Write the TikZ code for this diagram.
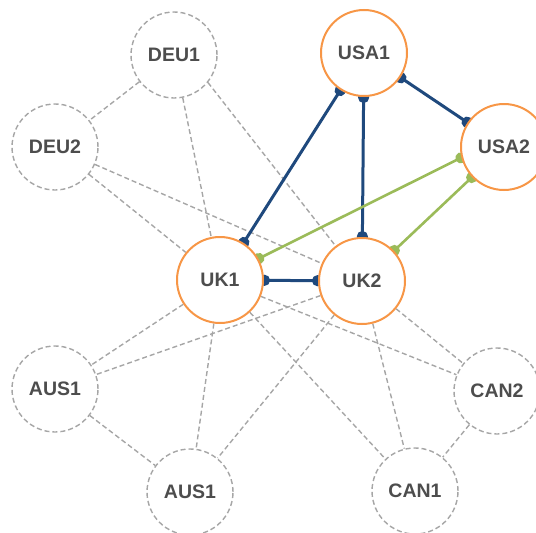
\documentclass[tikz,border=0pt]{standalone}
\usepackage{fontspec}
\setmainfont{Liberation Sans}
\usetikzlibrary{arrows.meta,backgrounds}
\definecolor{edgegray}{HTML}{A6A6A6}
\definecolor{ringorange}{HTML}{F79646}
\definecolor{linkblue}{HTML}{1F497D}
\definecolor{linkgreen}{HTML}{9BBB59}
\definecolor{labelgray}{HTML}{4D4D4D}
\begin{document}
\begin{tikzpicture}[x=1pt,y=-1pt,
  site/.style={circle, minimum size=86pt, inner sep=0pt, fill=white,
    font=\fontsize{19.5}{20}\selectfont\bfseries, text=labelgray},
  other/.style={site, draw=edgegray, line width=1.4pt, dash pattern=on 5pt off 3pt},
  core/.style={site, draw=ringorange, line width=2pt},
  weak/.style={draw=edgegray, line width=1.4pt, dash pattern=on 5pt off 3pt},
  tie/.style={line width=3pt, {Circle[length=11pt]}-{Circle[length=11pt]},
    shorten <=-5pt, shorten >=-5pt},
  bluetie/.style={tie, draw=linkblue},
  greentie/.style={tie, line width=2.6pt, draw=linkgreen}]
\useasboundingbox (0,0) rectangle (536,533);
\clip (0,0) rectangle (536,533);

% sites
\node[other] (deu1) at (174,55) {DEU1};
\node[other] (deu2) at (55,147) {DEU2};
\node[core]  (usa1) at (364,53) {USA1};
\node[core]  (usa2) at (504,147) {USA2};
\node[core]  (uk1)  at (220,280) {UK1};
\node[core]  (uk2)  at (362,281) {UK2};
\node[other] (aus1a) at (55,389) {AUS1};
\node[other] (aus1b) at (190,492) {AUS1};
\node[other] (can2) at (497,391) {CAN2};
\node[other] (can1) at (415,491) {CAN1};

\begin{scope}[on background layer]
  % secondary links
  \draw[weak] (deu1) -- (deu2);
  \draw[weak] (deu1) -- (uk1);
  \draw[weak] (deu1.321) -- (uk2.127);
  \draw[weak] (deu2) -- (uk1);
  \draw[weak] (deu2) -- (uk2);
  \draw[weak] (uk1) -- (aus1a);
  \draw[weak] (uk2) -- (aus1a);
  \draw[weak] (uk1) -- (aus1b);
  \draw[weak] (uk2) -- (aus1b);
  \draw[weak] (uk1) -- (can1);
  \draw[weak] (uk1) -- (can2);
  \draw[weak] (uk2) -- (can2);
  \draw[weak] (uk2) -- (can1);
  \draw[weak] (can2) -- (can1);
  \draw[weak] (aus1a) -- (aus1b);
  % primary links
  \draw[bluetie] (usa1) -- (uk1);
  \draw[bluetie] (usa1) -- (uk2);
  \draw[bluetie] (usa1) -- (usa2);
  \draw[bluetie] (uk1) -- (uk2);
  \draw[greentie] (usa2.194) -- (uk1.29);
  \draw[greentie] (usa2) -- (uk2);
\end{scope}
\end{tikzpicture}
\end{document}
